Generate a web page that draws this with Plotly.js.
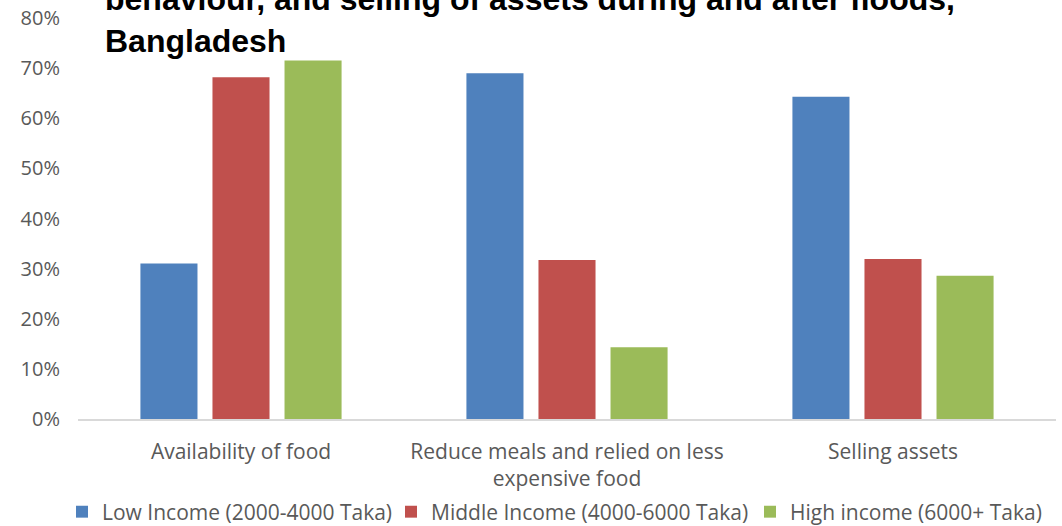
<!DOCTYPE html>
<html>
<head>
<meta charset="utf-8">
<script src="https://cdn.plot.ly/plotly-3.0.1.min.js"></script>
<style>html,body{margin:0;padding:0;background:#fff;}#chart{width:1062px;height:526px;}</style>
</head>
<body>
<div id="chart"></div>
<script>
const categories = ["Availability of food", "Reduce meals and relied on less<br>expensive food", "Selling assets"];
const seriesNames = ["Low Income (2000-4000 Taka)", "Middle Income (4000-6000 Taka)", "High income (6000+ Taka)"];
const lowIncome = [0.31, 0.69, 0.643];
const middleIncome = [0.682, 0.317, 0.319];
const highIncome = [0.715, 0.143, 0.286];
const colors = ["#4F81BD", "#C0504D", "#9BBB59"];
const titleLines = ["behaviour, and selling of assets during and after floods,", "Bangladesh"];

const legendIds = ["legend", "legend2", "legend3"];
const legendX = [62, 391, 750];

const values = [lowIncome, middleIncome, highIncome];
const traces = values.map((v, i) => ({
  type: "bar",
  name: seriesNames[i],
  x: categories,
  y: v,
  marker: {color: colors[i]},
  legend: legendIds[i],
  hoverinfo: "y"
}));

const fontFam = "'Open Sans', 'Noto Sans', sans-serif";
const layout = {
  width: 1062,
  height: 526,
  margin: {l: 78, r: 6, t: 18, b: 107},
  paper_bgcolor: "#ffffff",
  plot_bgcolor: "#ffffff",
  barmode: "group",
  bargap: 0.337,
  bargroupgap: 0.208,
  title: {
    text: "<b>" + titleLines.join("<br>") + "</b>",
    font: {family: "'Liberation Sans', Arial, sans-serif", size: 32, color: "#000000"},
    xref: "container", x: 105 / 1062, xanchor: "left",
    yref: "container", y: 1 - 10 / 526, yanchor: "bottom"
  },
  xaxis: {
    type: "category",
    showline: true, linecolor: "#D9D9D9", linewidth: 1.5,
    showgrid: false, zeroline: false,
    ticks: "", ticklen: 0,
    ticklabelstandoff: 13,
    tickfont: {family: fontFam, size: 21, color: "#595959"}
  },
  yaxis: {
    range: [0, 0.8],
    dtick: 0.1, tick0: 0,
    tickformat: ".0%",
    showgrid: false, zeroline: false, showline: false,
    ticks: "",
    ticklabelstandoff: 17,
    tickfont: {family: fontFam, size: 20, color: "#595959"}
  },
  showlegend: true
};

legendIds.forEach((id, i) => {
  layout[id] = {
    orientation: "h",
    x: legendX[i] / 1062, xanchor: "left", xref: "container",
    y: 14 / 526, yanchor: "middle", yref: "container",
    font: {family: fontFam, size: 21, color: "#595959"},
    itemwidth: 30,
    bgcolor: "rgba(0,0,0,0)"
  };
});

Plotly.newPlot("chart", traces, layout, {displayModeBar: false, staticPlot: true});
</script>
</body>
</html>
